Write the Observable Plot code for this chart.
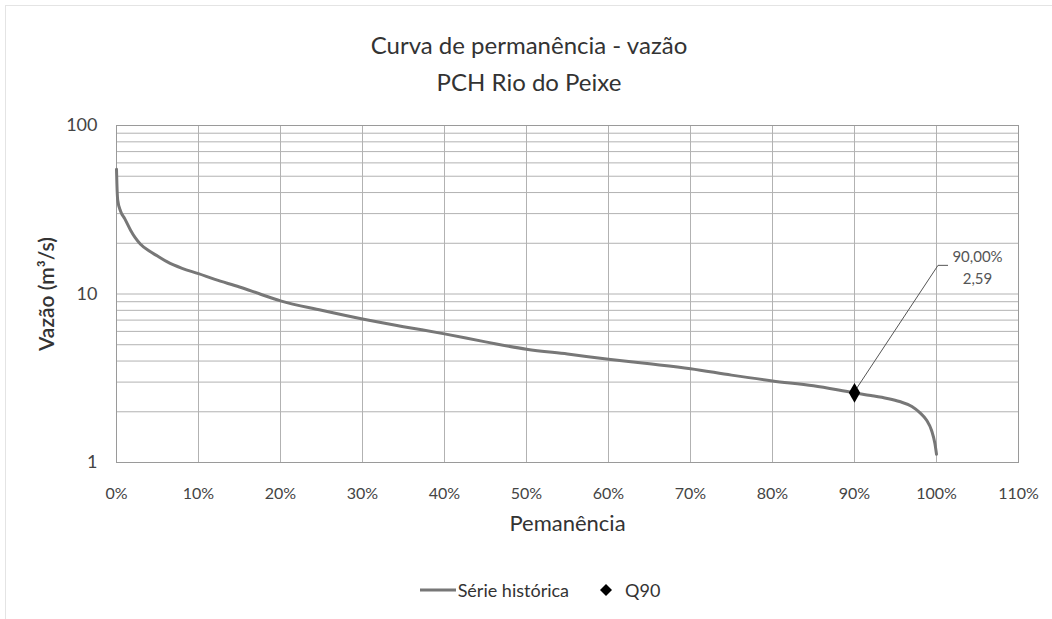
<!DOCTYPE html>
<html><head><meta charset="utf-8">
<script src="https://cdn.jsdelivr.net/npm/d3@7"></script>
<script src="https://cdn.jsdelivr.net/npm/@observablehq/plot@0.6"></script>
<style>
body{margin:0;background:#fff;font-family:Lato,"Open Sans",sans-serif;color:#333;}
#wrap{position:relative;width:1052px;height:619px;overflow:hidden;}
#edge{position:absolute;left:5px;top:5px;right:-10px;bottom:-10px;border-left:1px solid #e4e4e4;border-top:1px solid #e4e4e4;pointer-events:none;}
#title{height:110px;box-sizing:border-box;padding-top:26px;padding-left:6px;text-align:center;font-size:24px;line-height:37px;color:#333;}
#chart svg{display:block;}
#legend{display:flex;justify-content:center;align-items:center;padding-top:31px;padding-left:28px;font-size:18px;line-height:24px;color:#333;}
#legend .item{display:flex;align-items:center;}
</style>
</head><body>
<div id="wrap">
<div id="edge"></div>
<div id="title"><div>Curva de permanência - vazão</div><div>PCH Rio do Peixe</div></div>
<div id="chart"></div>
<div id="legend"></div>
</div>
<script>
// Permanência (%) and vazão (m³/s)
const permanencia = [0, 0.05, 0.15, 0.5, 1, 1.7, 2.3, 2.9, 4, 5, 6.2, 8, 10, 12, 15, 17.5, 20, 25, 30, 35, 40, 45, 50, 55, 60, 65, 70, 75, 80, 85, 90, 92, 94, 95.5, 97, 98, 98.8, 99.4, 99.8, 100];
const vazao = [55, 45, 36, 31, 28, 24, 21.5, 19.8, 18, 16.8, 15.5, 14.2, 13.2, 12.2, 11, 10, 9.1, 8, 7.1, 6.4, 5.8, 5.2, 4.7, 4.4, 4.1, 3.85, 3.6, 3.3, 3.05, 2.85, 2.59, 2.5, 2.4, 2.3, 2.15, 1.97, 1.78, 1.55, 1.3, 1.12];
const q90Perm = [90];
const q90Vazao = [2.59];
const xTicks = [0, 10, 20, 30, 40, 50, 60, 70, 80, 90, 100, 110];
const yTicks = [1, 10, 100];
const yGrid = [1,2,3,4,5,6,7,8,9,10,20,30,40,50,60,70,80,90,100];
const seriesName = "Série histórica";
const pointName = "Q90";

const serie = permanencia.map((p, i) => ({p, q: vazao[i]}));
const q90 = q90Perm.map((p, i) => ({p, q: q90Vazao[i]}));
const nf = new Intl.NumberFormat("pt-BR", {minimumFractionDigits: 2, maximumFractionDigits: 2});

const leader = (index, scales) => {
  const px = scales.x(q90[0].p), py = scales.y(q90[0].q);
  return d3.create("svg:path")
    .attr("d", `M${px},${py}L${px + 84},${py - 127}h10`)
    .attr("stroke", "#555").attr("stroke-width", 1).attr("fill", "none").node();
};

const plot = Plot.plot({
  width: 1052,
  height: 437,
  marginTop: 15,
  marginBottom: 85,
  marginLeft: 116,
  marginRight: 34,
  style: {fontFamily: "Lato, 'Open Sans', sans-serif", fontSize: "16px", color: "#444", background: "transparent"},
  x: {domain: [0, 110]},
  y: {type: "log", domain: [1, 100]},
  marks: [
    Plot.ruleY(yGrid, {stroke: "#b2b2b2", strokeOpacity: 1}),
    Plot.ruleX(xTicks, {stroke: "#b2b2b2", strokeOpacity: 1}),
    Plot.frame({stroke: "#9a9a9a"}),
    Plot.line(serie, {x: "p", y: "q", stroke: "#777", strokeWidth: 3, curve: "monotone-x"}),
    leader,
    Plot.dot(q90, {x: "p", y: "q", symbol: "diamond", r: 6, fill: "#000"}),
    Plot.text(q90, {x: "p", y: "q", text: d => nf.format(d.p) + "%\n" + nf.format(d.q), dx: 123, dy: -127, lineHeight: 1.45, fontSize: 15, fill: "#555"}),
    Plot.axisX(xTicks, {tickSize: 0, tickPadding: 25, tickFormat: d => d + "%", label: null, fontSize: 16}),
    Plot.axisY(yTicks, {tickSize: 0, tickPadding: 19, tickFormat: d => String(d), label: null, fontSize: 18}),
    Plot.text(["Vazão (m³/s)"], {frameAnchor: "left", textAnchor: "middle", rotate: -90, dx: -69, fontSize: 21, fontWeight: 600, fill: "#333"}),
    Plot.text(["Pemanência"], {frameAnchor: "bottom", dy: 68, fontSize: 22, fill: "#333"})
  ]
});
document.getElementById("chart").appendChild(plot);

document.getElementById("legend").innerHTML =
  `<span class="item"><svg width="36" height="10"><line x1="0" x2="36" y1="5" y2="5" stroke="#777" stroke-width="3"/></svg><span style="margin-left:2px">${seriesName}</span></span>` +
  `<span class="item" style="margin-left:30px"><svg width="14" height="14"><path d="M7,1L13,7L7,13L1,7Z" fill="#000"/></svg><span style="margin-left:12px">${pointName}</span></span>`;
</script>
</body></html>
